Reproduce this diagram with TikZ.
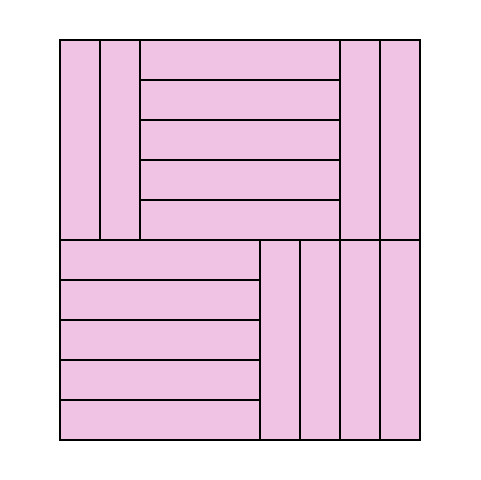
\documentclass[tikz,border=0pt]{standalone}
\definecolor{tile}{HTML}{F0C3E4}
\begin{document}
\begin{tikzpicture}[x=0.75pt,y=-0.75pt,plank/.style={fill=tile,draw=black,line width=2.2pt,line join=miter}]
\useasboundingbox (0,0) rectangle (480,480);
% top-left vertical planks
\foreach \x in {60,100} \draw[plank] (\x,40) rectangle ++(40,200);
% top middle horizontal planks
\foreach \y in {40,80,120,160,200} \draw[plank] (140,\y) rectangle ++(200,40);
% top-right vertical planks
\foreach \x in {340,380} \draw[plank] (\x,40) rectangle ++(40,200);
% bottom-left horizontal planks
\foreach \y in {240,280,320,360,400} \draw[plank] (60,\y) rectangle ++(200,40);
% bottom-right vertical planks
\foreach \x in {260,300,340,380} \draw[plank] (\x,240) rectangle ++(40,200);
\draw[line width=2.2pt] (60,40) rectangle (420,440);
\end{tikzpicture}
\end{document}
